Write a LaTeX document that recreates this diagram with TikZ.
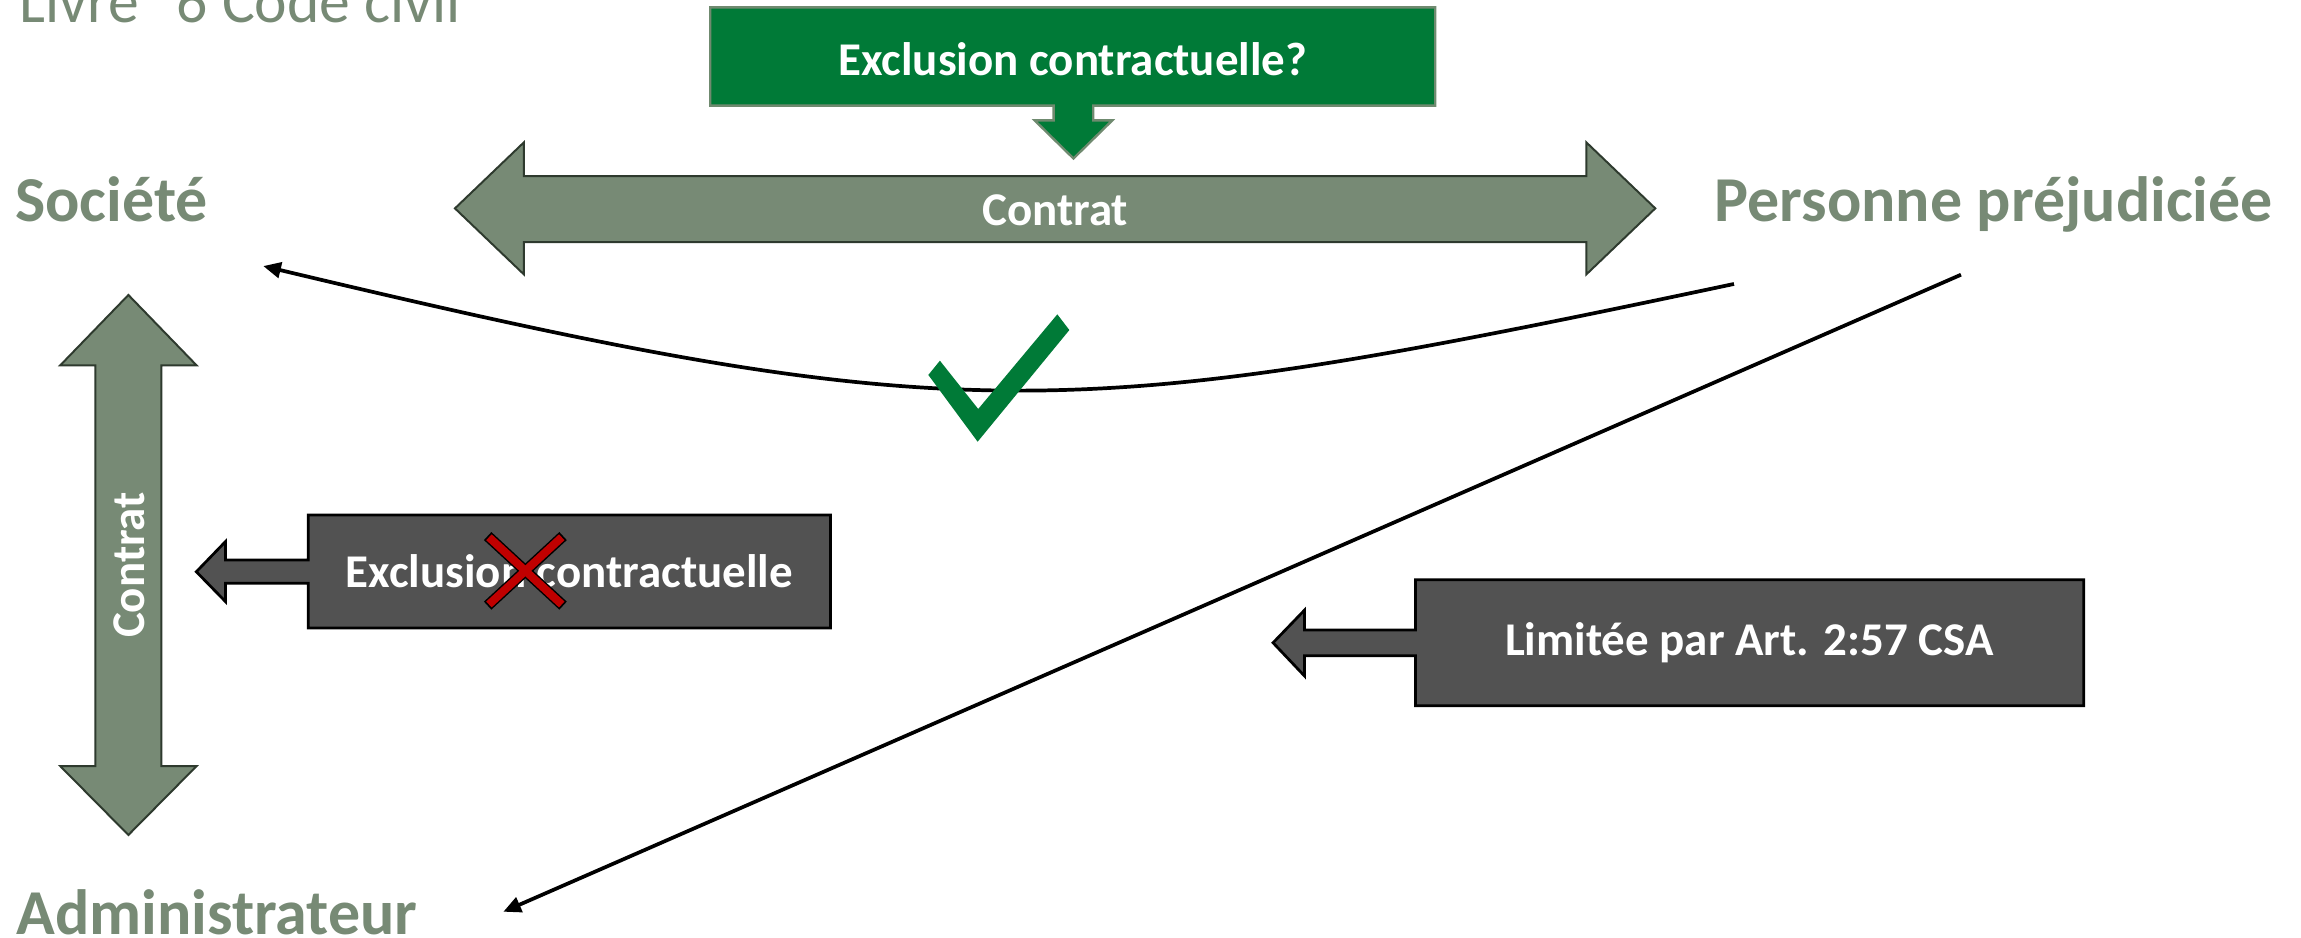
\documentclass[tikz,border=0pt]{standalone}
\usepackage{fontspec}
\setmainfont{Carlito}
\usetikzlibrary{arrows.meta}

\definecolor{sage}{HTML}{778A75}
\definecolor{sagedark}{HTML}{2E3A2E}
\definecolor{sageline}{HTML}{6F8A6F}
\definecolor{lawgreen}{HTML}{007A37}
\definecolor{slatebox}{HTML}{525252}
\definecolor{crossred}{HTML}{C00000}

\tikzset{
  bigarrow/.style={fill=sage, draw=sagedark, line width=1pt, line join=miter},
  greencallout/.style={fill=lawgreen, draw=sageline, line width=1.2pt, line join=miter},
  greycallout/.style={fill=slatebox, draw=black, line width=1.4pt, line join=miter},
  boxtext/.style={text=white, inner sep=0pt, font=\bfseries\fontsize{24}{28}\selectfont},
  party/.style={text=sage, inner sep=0pt, anchor=base west, font=\bfseries\fontsize{32.7}{38}\selectfont},
  link/.style={line width=1.9pt, -{Triangle[length=9pt,width=8pt]}},
}

\begin{document}
\begin{tikzpicture}[x=0.75pt, y=-0.75pt]
  \useasboundingbox (0,0) rectangle (1568,639);

  % heading, partly above the top edge
  \node[anchor=base west, inner sep=0pt, text=sage, font=\fontsize{31.5}{36}\selectfont]
    (titre) at (13,15) {Livre\hspace{0.62em}6 Code civil};

  % parties
  \node[party] (societe) at (10,151) {Société};
  \node[party] (personne) at (1168,151) {Personne préjudiciée};
  \node[party] (admin) at (11,637) {Administrateur};

  % contract between company and injured person
  \draw[bigarrow] (310,142) -- (357,97) -- (357,120) -- (1081,120) -- (1081,97)
    -- (1128,142) -- (1081,187) -- (1081,165) -- (357,165) -- (357,187) -- cycle;
  \node[boxtext] (contratH) at (719,143) {Contrat};

  % contract between company and director
  \draw[bigarrow] (87.5,201) -- (134,249) -- (110,249) -- (110,522) -- (134,522)
    -- (87.5,569) -- (41,522) -- (65,522) -- (65,249) -- (41,249) -- cycle;
  \node[boxtext, rotate=90] (contratV) at (88,385) {Contrat};

  % question callout pointing down to the contract
  \draw[greencallout] (484,5) -- (978,5) -- (978,72) -- (745,72) -- (745,82) -- (758,82)
    -- (731.5,108) -- (705,82) -- (718,82) -- (718,72) -- (484,72) -- cycle;
  \node[boxtext] (question) at (731,40) {Exclusion contractuelle?};

  % callout pointing to the director contract
  \draw[greycallout] (566,351) -- (566,428) -- (210,428) -- (210,397.5) -- (153.7,397.5)
    -- (153.7,410) -- (133.8,389.6) -- (153.7,369) -- (153.7,381.6) -- (210,381.6)
    -- (210,351) -- cycle;
  \node[boxtext] (exclusion) at (388,389) {Exclusion contractuelle};

  % callout pointing to the liability line
  \draw[greycallout] (1420,395) -- (1420,481) -- (964.5,481) -- (964.5,446.8) -- (889,446.8)
    -- (889,460.7) -- (867.5,438) -- (889,415.7) -- (889,429.3) -- (964.5,429.3)
    -- (964.5,395) -- cycle;
  \node[boxtext] (limitee) at (1192,438) {Limitée par Art. 2:57 CSA};

  % red cross over the exclusion
  \draw[black, line width=5.6pt] (332.3,365.3) -- (383.7,412.7);
  \draw[black, line width=5.6pt] (383.7,365.3) -- (332.3,412.7);
  \draw[crossred, line width=4.1pt] (333.2,366.1) -- (382.8,411.9);
  \draw[crossred, line width=4.1pt] (382.8,366.1) -- (333.2,411.9);

  % liability connectors
  \coordinate (curveStart) at (1181.6,193.5);
  \coordinate (curveEnd) at (179.4,181.3);
  \coordinate (lineStart) at (1336.3,187.2);
  \coordinate (lineEnd) at (343,621.3);
  \draw[link] (curveStart) .. controls (730,289) and (656,295) .. (curveEnd);
  \draw[link] (lineStart) -- (lineEnd);

  % green check mark on the curve
  \fill[lawgreen] (632.6,255.5) -- (640.5,245.8) -- (666.6,278.7) -- (720.5,214.2)
    -- (728.7,224.9) -- (666.2,301) -- cycle;
\end{tikzpicture}
\end{document}
